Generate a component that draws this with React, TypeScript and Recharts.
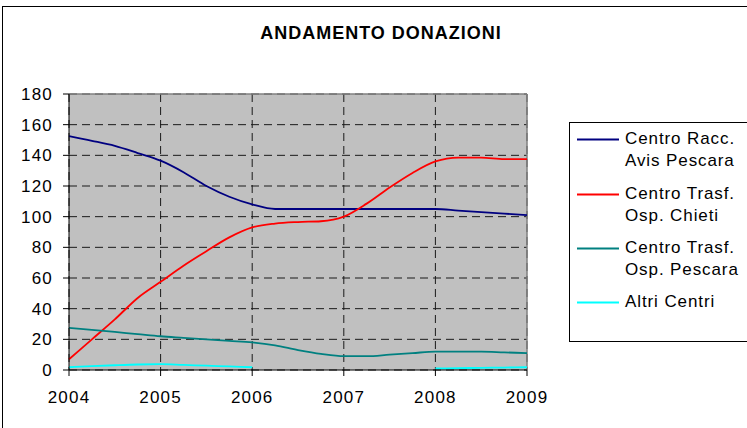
import React from "react";
import { LineChart, Line, XAxis, YAxis, CartesianGrid, ReferenceLine } from "recharts";

const periods = [
  2004, 2004.25, 2004.5, 2004.75, 2005, 2005.25, 2005.5, 2005.75, 2006, 2006.25, 2006.5,
  2006.75, 2007, 2007.25, 2007.5, 2007.75, 2008, 2008.25, 2008.5, 2008.75, 2009,
];
const avisPescara = [
  152.5, 149.5, 146.2, 141.5, 136.5, 129, 120, 113, 108, 105, 105, 105, 105, 105, 105, 105, 105,
  104, 103, 102, 101,
];
const ospChieti = [
  7, 20, 33, 47, 57.5, 68, 77.5, 86.5, 93, 95.5, 96.5, 97, 100, 108.5, 119, 128.5, 136, 138.5,
  138.5, 137.5, 137.5,
];
const ospPescara = [
  27.5, 26.2, 24.8, 23.4, 22, 21, 20, 19, 18, 16, 13, 10.5, 9, 9, 10, 11, 12, 12, 12, 11.5, 11,
];
const altriCentri: (number | null)[] = [
  1.8, 2.5, 3.1, 3.6, 3.8, 3.3, 2.8, 2.3, 1.8, null, null, null, null, null, null, null, 1, 1.2,
  1.4, 1.6, 1.8,
];
const yearTicks = [2004, 2005, 2006, 2007, 2008, 2009];
const valueTicks = [0, 20, 40, 60, 80, 100, 120, 140, 160, 180];
const seriesKeys = ["avis", "chieti", "pescara", "altri"];
const seriesNames = [
  ["Centro Racc.", "Avis Pescara"],
  ["Centro Trasf.", "Osp. Chieti"],
  ["Centro Trasf.", "Osp. Pescara"],
  ["Altri Centri"],
];
const seriesColors = ["#000080", "#FF0000", "#008080", "#00FFFF"];
const title = "ANDAMENTO DONAZIONI";

const data = periods.map((p, i) => ({
  x: p,
  avis: avisPescara[i],
  chieti: ospChieti[i],
  pescara: ospPescara[i],
  altri: altriCentri[i],
}));

const FONT = "'Liberation Sans', Arial, Helvetica, sans-serif";
const tickStyle = { fontFamily: FONT, fontSize: 17, fill: "#000", letterSpacing: 1.2 };

export default function App() {
  const legendTops = [128, 183, 237, 291];
  return (
    <div
      style={{
        position: "absolute",
        left: 0,
        top: 0,
        width: 747,
        height: 428,
        overflow: "hidden",
        background: "#fff",
      }}
    >
      <div
        style={{
          position: "absolute",
          left: 2,
          top: 6,
          width: 800,
          height: 500,
          border: "1px solid #000",
          boxSizing: "border-box",
        }}
      />
      <div
        style={{
          position: "absolute",
          left: 0,
          width: 762,
          top: 21,
          textAlign: "center",
          fontFamily: FONT,
          fontWeight: "bold",
          fontSize: 18,
          letterSpacing: 1,
          lineHeight: "24px",
          color: "#000",
        }}
      >
        {title}
      </div>
      <div style={{ position: "absolute", left: 0, top: 0 }}>
        <LineChart
          width={747}
          height={428}
          data={data}
          margin={{ top: 94, right: 220, bottom: 0, left: 0 }}
        >
          <CartesianGrid
            fill="#C0C0C0"
            stroke="#1a1a1a"
            strokeDasharray="8 5"
            horizontalValues={valueTicks}
            verticalValues={yearTicks}
          />
          <XAxis
            dataKey="x"
            type="number"
            domain={[2004, 2009]}
            ticks={yearTicks}
            interval={0}
            height={58}
            tickSize={6}
            tickMargin={15}
            tick={tickStyle}
            stroke="#000"
            axisLine={{ stroke: "#000", strokeWidth: 1 }}
            tickLine={{ stroke: "#000" }}
          />
          <YAxis
            type="number"
            domain={[0, 180]}
            ticks={valueTicks}
            interval={0}
            width={69}
            tickSize={6}
            tickMargin={10}
            tick={tickStyle}
            stroke="#000"
            axisLine={{ stroke: "#000", strokeWidth: 1 }}
            tickLine={{ stroke: "#000" }}
          />
          <ReferenceLine y={180} stroke="#808080" strokeWidth={1.5} />
          <ReferenceLine x={2009} stroke="#808080" strokeWidth={1.5} />
          {seriesKeys.map((k, i) => (
            <Line
              key={k}
              dataKey={k}
              type="monotone"
              stroke={seriesColors[i]}
              strokeWidth={1.8}
              dot={false}
              activeDot={false}
              connectNulls={false}
              isAnimationActive={false}
            />
          ))}
        </LineChart>
      </div>
      <div
        style={{
          position: "absolute",
          left: 569,
          top: 122,
          width: 200,
          height: 220,
          border: "1px solid #000",
          boxSizing: "border-box",
          background: "#fff",
        }}
      />
      {seriesNames.map((lines, i) => (
        <div key={i} style={{ position: "absolute", left: 577, top: legendTops[i] }}>
          <svg width={44} height={22} style={{ position: "absolute", left: 0, top: 0 }}>
            <line x1={0} x2={42} y1={11.5} y2={11.5} stroke={seriesColors[i]} strokeWidth={1.8} />
          </svg>
          <div
            style={{
              position: "absolute",
              left: 48,
              top: 0,
              whiteSpace: "nowrap",
              fontFamily: FONT,
              fontSize: 17,
              letterSpacing: 0.9,
              lineHeight: "22px",
              color: "#000",
            }}
          >
            {lines.map((t, j) => (
              <div key={j}>{t}</div>
            ))}
          </div>
        </div>
      ))}
    </div>
  );
}
